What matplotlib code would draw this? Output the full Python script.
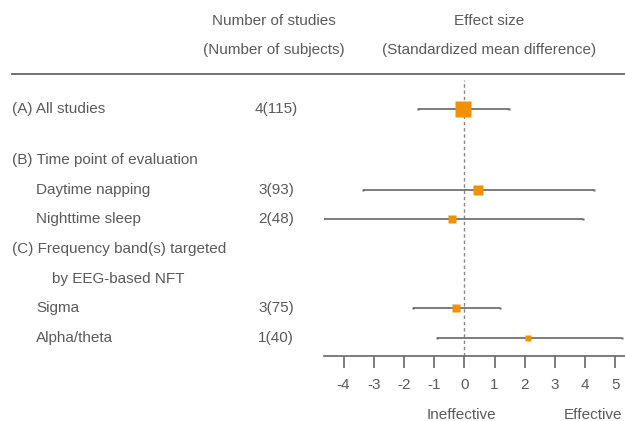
import numpy as np
import matplotlib.pyplot as plt

plt.rcParams['font.family'] = ['Liberation Sans', 'DejaVu Sans']

# Forest plot rows
labels = ["(A) All studies", "(B) Time point of evaluation", "Daytime napping",
          "Nighttime sleep", "(C) Frequency band(s) targeted", "by EEG-based NFT",
          "Sigma", "Alpha/theta"]
indent = [0, 0, 1, 1, 0, 2, 1, 1]
counts = ["4(115)", "", "3(93)", "2(48)", "", "", "3(75)", "1(40)"]

# Effect estimates (SMD) with 95% CI; None for header rows
smd = [-0.04, None, 0.46, -0.40, None, None, -0.29, 2.12]
ci_low = [-1.53, None, -3.36, -4.67, None, None, -1.71, -0.90]
ci_high = [1.48, None, 4.29, 3.93, None, None, 1.18, 5.21]
box_size = [11.8, None, 7.8, 5.2, None, None, 5.7, 3.7]

ticks = [-4, -3, -2, -1, 0, 1, 2, 3, 4, 5]

W, H = 625, 421
fig = plt.figure(figsize=(W / 100, H / 100), dpi=100)

txt = '#5a5a5a'
grey = '#666666'
orange = '#F29100'

# row centres in pixels from the top
row_y = [109, 160, 190, 219, 249, 279, 308, 338]
indent_px = [12, 36, 52]

ax = fig.add_axes([324 / W, (H - 356) / H, (W - 324) / W, (356 - 80) / H])
ax.set_xlim(-4.65, 5.32)
ax.set_ylim(356, 80)

for i in range(len(labels)):
    if smd[i] is None:
        continue
    y = row_y[i]
    ax.plot([ci_low[i], ci_high[i]], [y, y], color=grey, lw=1.2,
            solid_capstyle='butt', zorder=2)
    ax.plot([ci_low[i], ci_high[i]], [y, y], ls='none', marker='s',
            ms=1.6, color=grey, mec='none', zorder=2)
    ax.plot(smd[i], y, marker='s', ms=box_size[i], color=orange,
            mec='none', zorder=3)

ax.axvline(0, color='#888888', lw=1, ls=(0, (2.5, 2)), zorder=1)

for s in ['top', 'right', 'left']:
    ax.spines[s].set_visible(False)
ax.spines['bottom'].set_color(grey)
ax.spines['bottom'].set_linewidth(1.2)
ax.set_yticks([])
ax.set_xticks(ticks)
ax.set_xticklabels([str(t) for t in ticks])
ax.tick_params(axis='x', direction='out', length=8.5, width=1.2,
               color=grey, labelcolor=txt, labelsize=11, pad=7)
ax.patch.set_alpha(0)


def px(x, y):
    return x / W, 1 - y / H


fs = 11
for i, lab in enumerate(labels):
    fig.text(*px(indent_px[indent[i]], row_y[i]), lab, fontsize=fs,
             color=txt, va='center', ha='left')
    if counts[i]:
        fig.text(*px(276, row_y[i]), counts[i], fontsize=fs, color=txt,
                 va='center', ha='center')

fig.text(*px(274, 21), "Number of studies", fontsize=fs, color=txt,
         ha='center', va='center')
fig.text(*px(274, 50), "(Number of subjects)", fontsize=fs, color=txt,
         ha='center', va='center')
fig.text(*px(489, 21), "Effect size", fontsize=fs, color=txt,
         ha='center', va='center')
fig.text(*px(489, 50), "(Standardized mean difference)", fontsize=fs,
         color=txt, ha='center', va='center')
fig.text(*px(461, 415), "Ineffective", fontsize=fs, color=txt,
         ha='center', va='center')
fig.text(*px(593, 415), "Effective", fontsize=fs, color=txt,
         ha='center', va='center')

fig.add_artist(plt.Line2D([12 / W, 1], [1 - 74 / H, 1 - 74 / H],
                          color=grey, lw=1.3))

fig.savefig('out.png', dpi=100)
